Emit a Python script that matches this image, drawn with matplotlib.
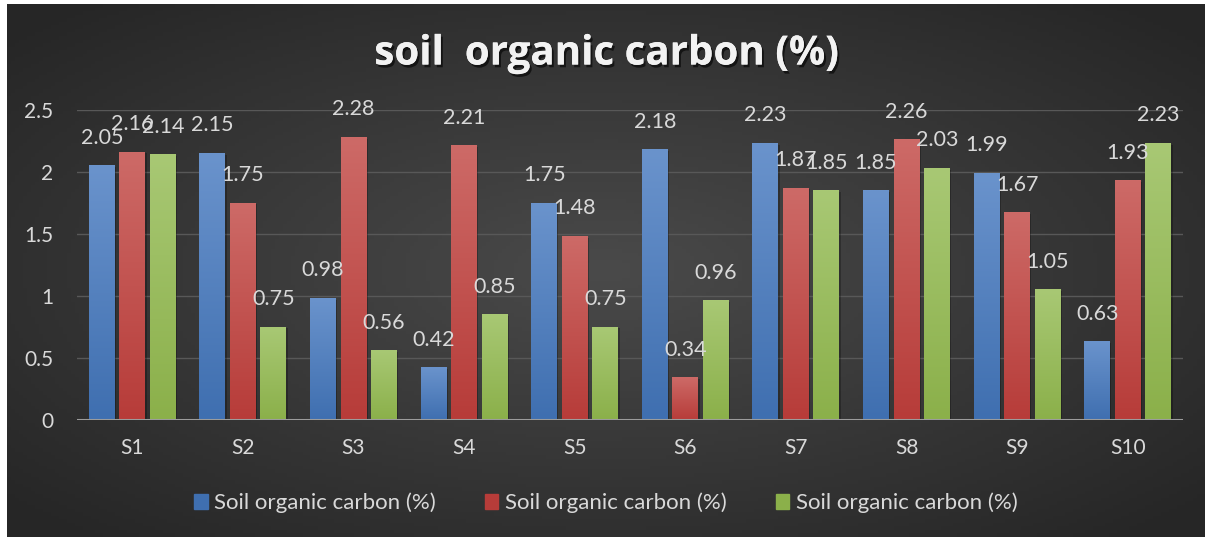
import numpy as np
import matplotlib
matplotlib.use('Agg')
import matplotlib.pyplot as plt
import matplotlib.patheffects as pe
from matplotlib.colors import LinearSegmentedColormap

plt.rcParams['font.family'] = ['Lato', 'DejaVu Sans']

sites = ['S1', 'S2', 'S3', 'S4', 'S5', 'S6', 'S7', 'S8', 'S9', 'S10']
soc_a = [2.05, 2.15, 0.98, 0.42, 1.75, 2.18, 2.23, 1.85, 1.99, 0.63]
soc_b = [2.16, 1.75, 2.28, 2.21, 1.48, 0.34, 1.87, 2.26, 1.67, 1.93]
soc_c = [2.14, 0.75, 0.56, 0.85, 0.75, 0.96, 1.85, 2.03, 1.05, 2.23]
series_label = 'Soil organic carbon (%)'
yticks = [0, 0.5, 1, 1.5, 2, 2.5]

txt = '#d9d9d9'
W, H = 1205, 539
fig = plt.figure(figsize=(W / 100, H / 100), dpi=100, facecolor='white')

# dark radial background panel
bg = fig.add_axes([7 / W, 2 / H, (W - 7) / W, (H - 6) / H])
gx, gy = np.meshgrid(np.linspace(-1, 1, 300), np.linspace(-1, 1, 150))
r = np.clip(np.sqrt(gx ** 2 + gy ** 2) / 1.35, 0, 1)
bgcmap = LinearSegmentedColormap.from_list('bg', ['#4a4a4a', '#262626'])
bg.imshow(r, cmap=bgcmap, aspect='auto', extent=[0, 1, 0, 1], vmin=0, vmax=1)
bg.set_axis_off()

ax = fig.add_axes([77 / W, (H - 420) / H, 1106 / W, 310 / H])
ax.patch.set_alpha(0)

x = np.arange(len(sites))
w = 0.235
step = 0.276
series = [(soc_a, '#6a93cc', '#3f6fb0'),
          (soc_b, '#cd6a67', '#b73c39'),
          (soc_c, '#a8c874', '#8bb04a')]

for k, (vals, top, bot) in enumerate(series):
    cm = LinearSegmentedColormap.from_list('g%d' % k, [bot, top])
    xs = x + (k - 1) * step
    bars = ax.bar(xs, vals, width=w, color=bot, label=series_label, zorder=2)
    for b, v in zip(bars, vals):
        x0 = b.get_x()
        # soft shadow
        ax.add_patch(plt.Rectangle((x0 + 0.012, 0), w, v - 0.01, color='black',
                                   alpha=0.25, zorder=1.5, lw=0))
        ax.imshow(np.linspace(0, 1, 100).reshape(-1, 1), cmap=cm, aspect='auto',
                  extent=[x0, x0 + w, 0, v], origin='lower', zorder=2.5)
        ax.annotate('%.2f' % v, (b.get_x() + w / 2, v), xytext=(0, 13),
                    textcoords='offset points', ha='center', va='bottom',
                    color=txt, fontsize=15.5, annotation_clip=False, zorder=4)

ax.set_xlim(-0.5, 9.5)
ax.set_ylim(0, 2.5)
ax.set_yticks(yticks)
ax.set_yticklabels(['0', '0.5', '1', '1.5', '2', '2.5'])
ax.set_xticks(x)
ax.set_xticklabels(sites)
ax.tick_params(axis='both', length=0, colors=txt, labelsize=15)
ax.tick_params(axis='x', pad=13)
ax.tick_params(axis='y', pad=17)
ax.grid(axis='y', color='#585858', linewidth=1, zorder=0)
ax.set_axisbelow(True)
for s in ax.spines.values():
    s.set_visible(False)
ax.axhline(0, color='#9c9c9c', linewidth=2.2, zorder=5)

handles, labels = ax.get_legend_handles_labels()
leg = fig.legend(handles, labels, loc='center', bbox_to_anchor=(606 / W, (H - 503) / H),
                 ncol=3, frameon=False, fontsize=16, labelcolor=txt,
                 handlelength=0.6, handleheight=0.6, handletextpad=0.3,
                 columnspacing=2.2)
for h, (vals, top, bot) in zip(leg.legend_handles, series):
    h.set_color(bot)

fig.text(606 / W, (H - 54) / H, 'soil  organic carbon (%)', ha='center', va='center',
         fontsize=29, fontweight='bold', color='#f2f2f2', family=['Open Sans', 'DejaVu Sans'],
         path_effects=[pe.withSimplePatchShadow(offset=(1.5, -2), shadow_rgbFace='black', alpha=0.6),
                       pe.Normal()])

fig.savefig('out.png', dpi=100, facecolor='white')
